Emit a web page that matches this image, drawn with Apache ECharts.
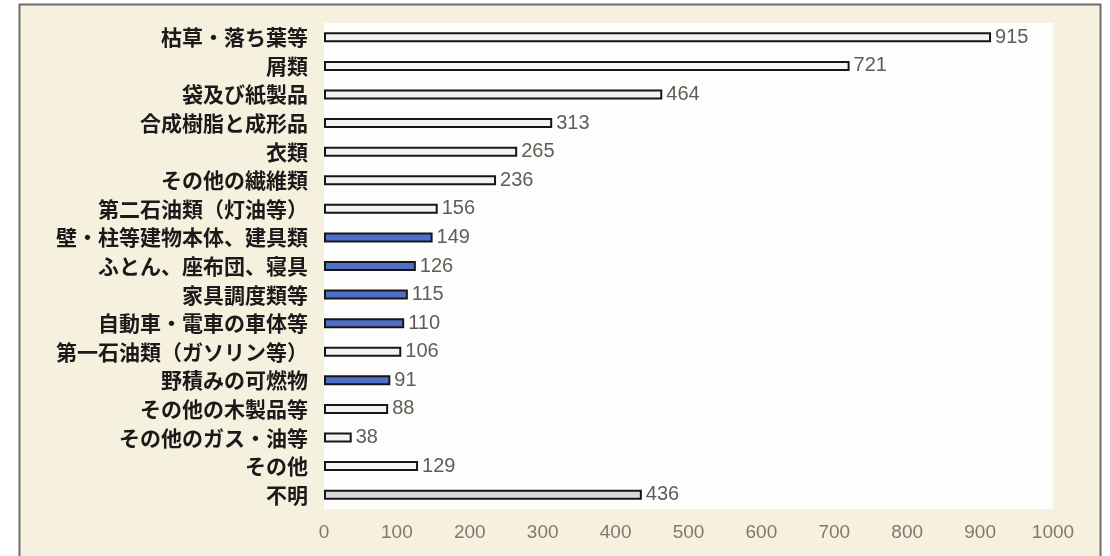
<!DOCTYPE html>
<html>
<head>
<meta charset="utf-8">
<script src="https://cdn.jsdelivr.net/npm/echarts@6/dist/echarts.min.js"></script>
<style>
  html, body { margin: 0; padding: 0; background: #ffffff; }
  #chart { width: 1110px; height: 556px; }
</style>
</head>
<body>
<div id="chart"></div>
<script>
// 着火物別の出火件数
const categories = [
  '枯草・落ち葉等', '屑類', '袋及び紙製品', '合成樹脂と成形品', '衣類',
  'その他の繊維類', '第二石油類（灯油等）', '壁・柱等建物本体、建具類',
  'ふとん、座布団、寝具', '家具調度類等', '自動車・電車の車体等',
  '第一石油類（ガソリン等）', '野積みの可燃物', 'その他の木製品等',
  'その他のガス・油等', 'その他', '不明'
];
const counts = [915, 721, 464, 313, 265, 236, 156, 149, 126, 115, 110, 106, 91, 88, 38, 129, 436];
// 区分: focus = 強調する着火物, plain = その他, unknown = 不明
const kinds = [
  'plain', 'plain', 'plain', 'plain', 'plain', 'plain', 'plain', 'focus',
  'focus', 'focus', 'focus', 'plain', 'focus', 'plain', 'plain', 'plain', 'unknown'
];
const axisTicks = [0, 100, 200, 300, 400, 500, 600, 700, 800, 900, 1000];

const fillByKind = { plain: '#f3f3f1', focus: '#4d6ec9', unknown: '#d9d9d9' };

const chart = echarts.init(document.getElementById('chart'));
chart.setOption({
  animation: false,
  backgroundColor: '#ffffff',
  graphic: [{
    type: 'rect',
    z: -10,
    silent: true,
    shape: { x: 19.5, y: 4.5, width: 1081, height: 580 },
    style: { fill: '#f6f1de', stroke: '#6f6f6f', lineWidth: 2 }
  }],
  grid: {
    left: 324, right: 57, top: 23, bottom: 47,
    show: true, backgroundColor: '#fdfdfb', borderWidth: 0
  },
  xAxis: {
    type: 'value',
    min: axisTicks[0],
    max: axisTicks[axisTicks.length - 1],
    interval: axisTicks[1] - axisTicks[0],
    axisLine: { show: false },
    axisTick: { show: false },
    splitLine: { show: false },
    axisLabel: {
      color: '#84766f',
      fontFamily: 'Liberation Sans, Arial, sans-serif',
      fontSize: 19,
      margin: 14,
      formatter: v => String(v)
    }
  },
  yAxis: {
    type: 'category',
    inverse: true,
    data: categories,
    axisLine: { show: false },
    axisTick: { show: false },
    axisLabel: {
      color: '#1a1a1a',
      fontFamily: 'Noto Sans CJK JP',
      fontWeight: 'bold',
      fontSize: 21,
      margin: 16
    }
  },
  series: [{
    type: 'bar',
    data: counts.map((v, i) => ({
      value: v,
      itemStyle: { color: fillByKind[kinds[i]] }
    })),
    barWidth: 10,
    itemStyle: { borderColor: '#161616', borderWidth: 2 },
    label: {
      show: true,
      position: 'right',
      distance: 4,
      color: '#625b59',
      fontFamily: 'Liberation Sans, Arial, sans-serif',
      fontSize: 20
    }
  }]
});
</script>
</body>
</html>
